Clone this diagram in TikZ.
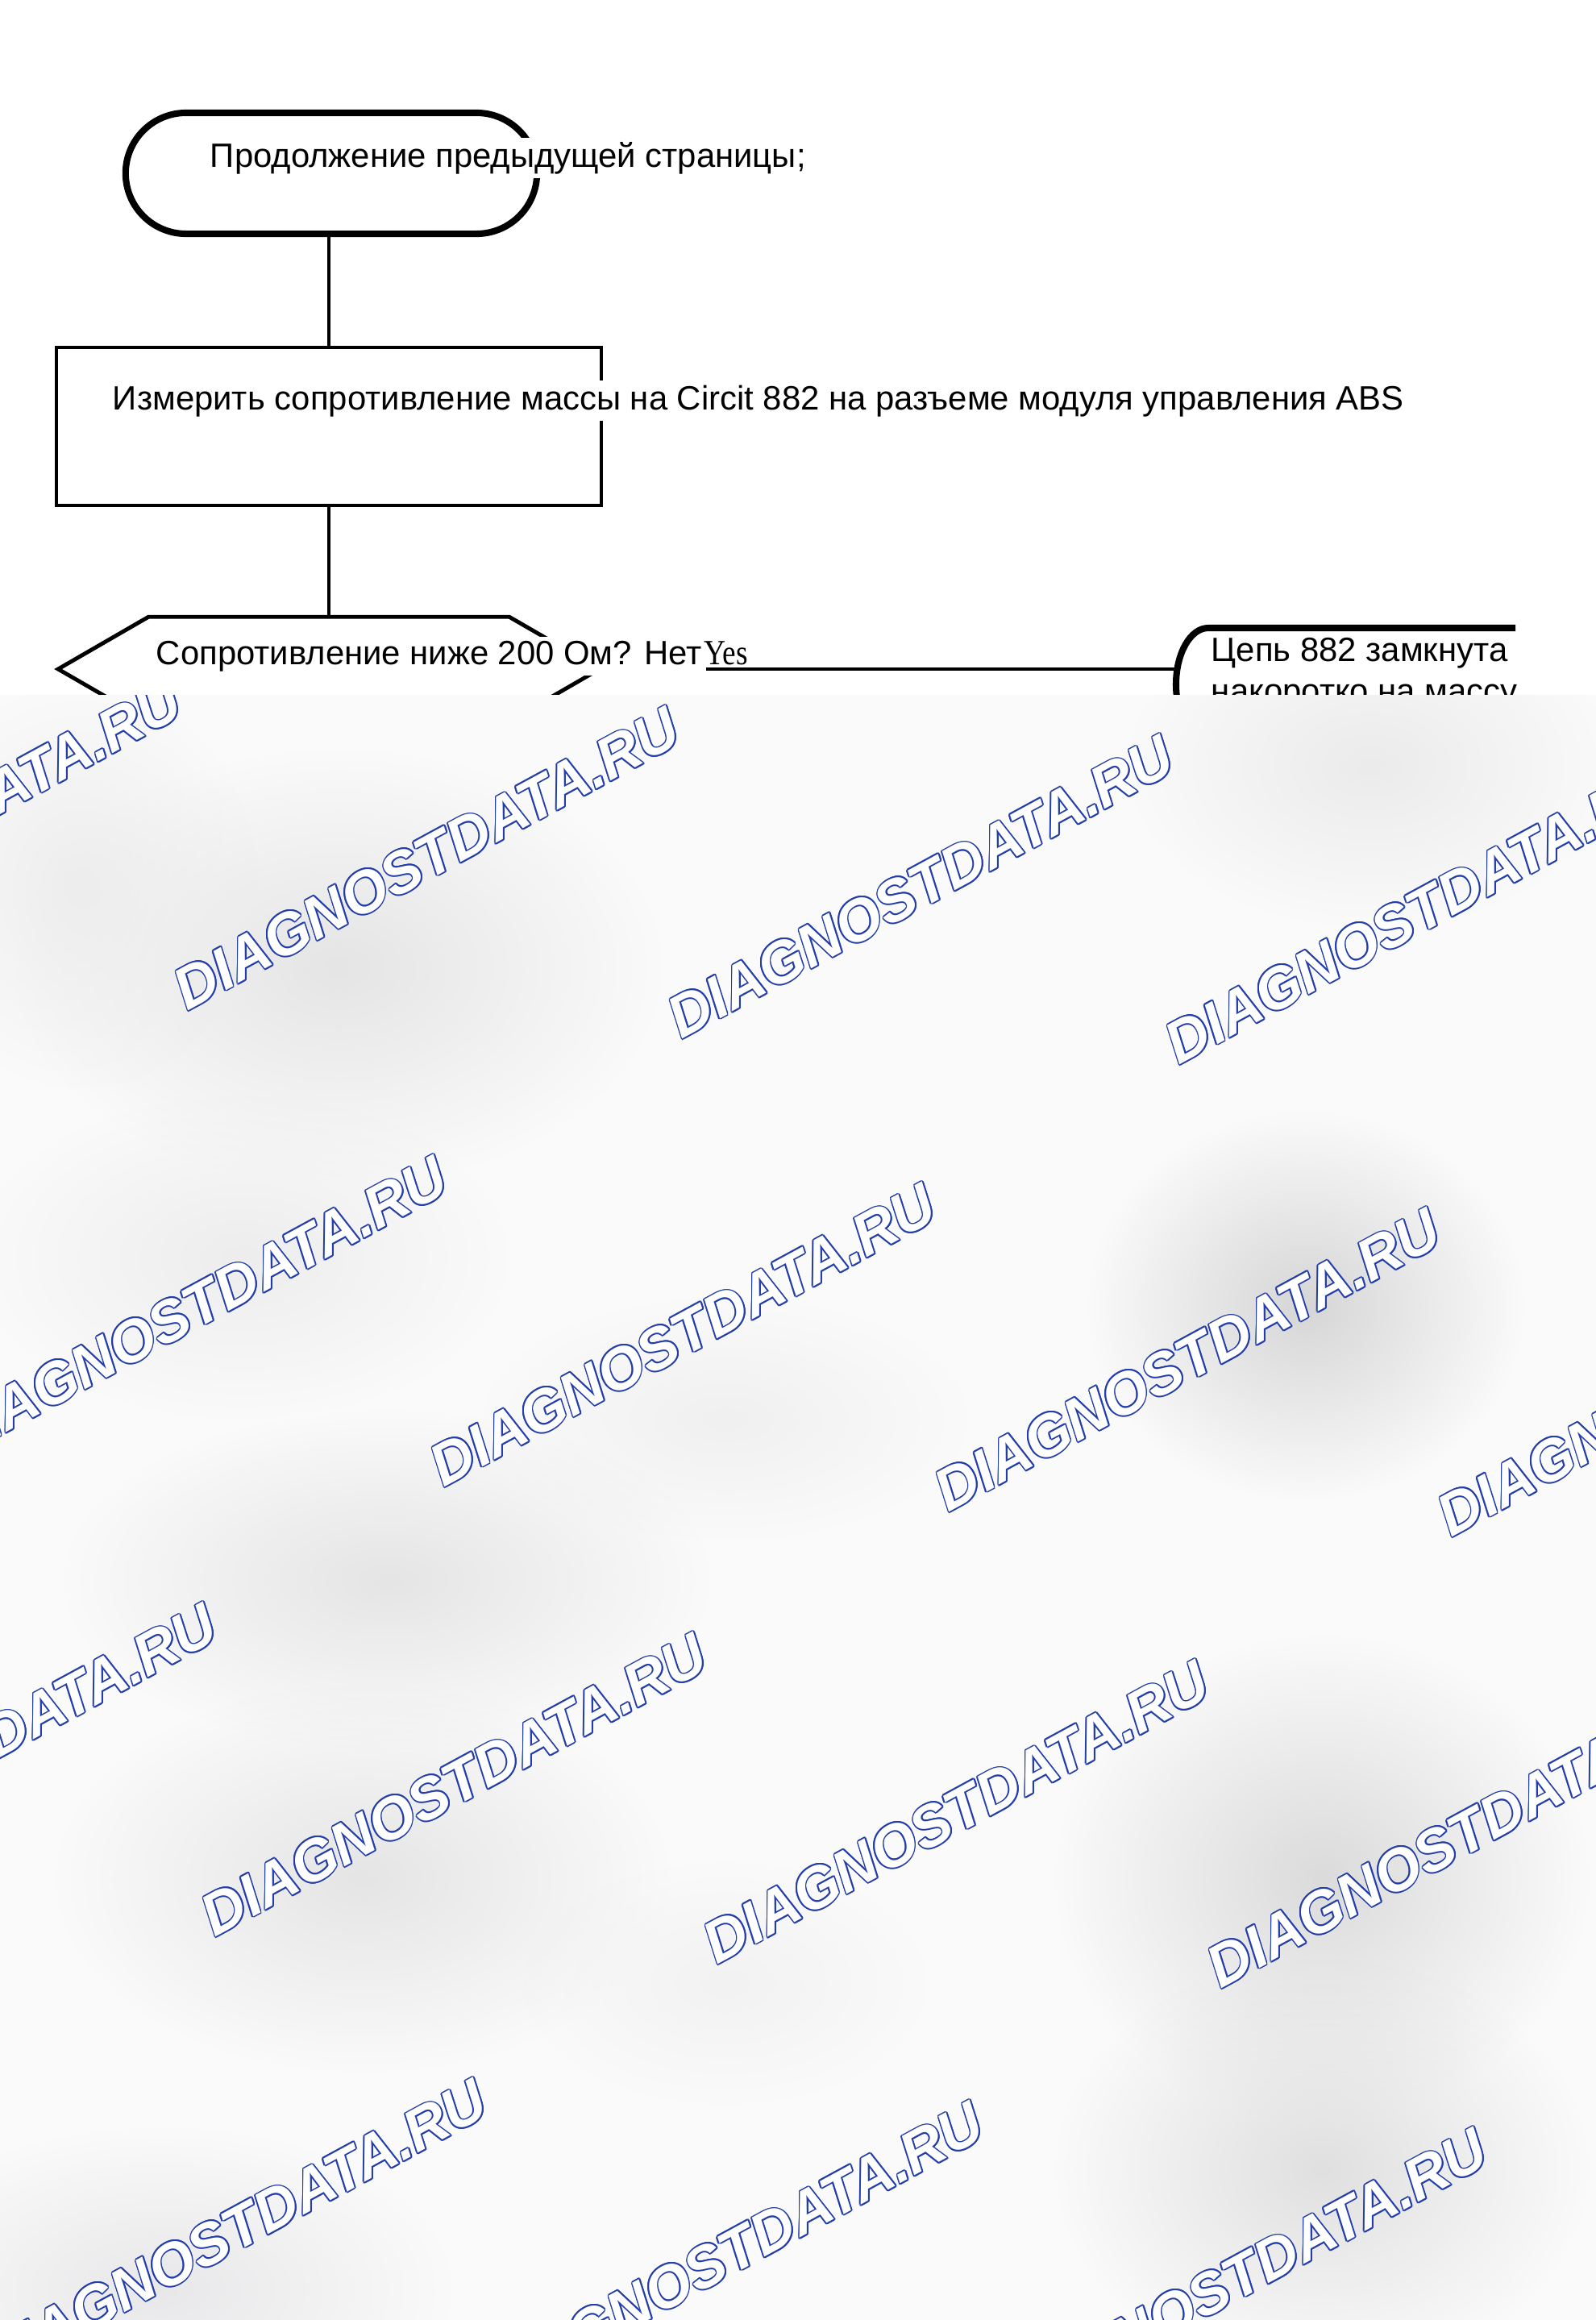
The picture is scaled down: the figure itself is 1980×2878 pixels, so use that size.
\documentclass[tikz,border=0pt]{standalone}
\usepackage{fontspec}
\setmainfont{Liberation Sans}
\newfontfamily\yesfont{Liberation Serif}
\usetikzlibrary{shapes.misc,fadings}
\definecolor{wmblue}{RGB}{35,62,170}
\definecolor{ovbase}{RGB}{250,250,250}
\tikzfading[name=blobfade, inner color=transparent!0, outer color=transparent!100]
\newcommand\wmark[2]{%
  \foreach \wa in {0,30,...,330}{\node[wm,text=wmblue,shift={(\wa:0.5pt)}] at (#1,#2) {DIAGNOSTDATA.RU};}%
  \node[wm,text=white] at (#1,#2) {DIAGNOSTDATA.RU};}
\newcommand\blob[5]{\fill[#5, path fading=blobfade] (#1,#2) ellipse [x radius=#3cm, y radius=#4cm];}
\begin{document}
\begin{tikzpicture}[x=0.01cm,y=-0.01cm,
  termbox/.style={rounded rectangle, draw, line width=2.3pt, inner sep=0pt},
  termline/.style={line width=2.3pt},
  procbox/.style={draw, line width=1.3pt, inner sep=0pt},
  hexline/.style={line width=1.4pt, line join=miter},
  txt/.style={font=\fontsize{11.9pt}{14.7pt}\selectfont, inner sep=1.5pt, fill=white, anchor=base west},
  conn/.style={line width=1.1pt},
  wm/.style={font=\fontsize{20.7pt}{24pt}\selectfont\bfseries\itshape, inner sep=0pt, rotate=28.5}]
\useasboundingbox (0,0) rectangle (1980,2878);
\fill[white] (0,0) rectangle (1980,2878);
% shapes
\node[termbox, minimum width=5.1cm, minimum height=1.5cm] (t1) at (411,215) {};
\node[procbox, minimum width=6.76cm, minimum height=1.96cm] (b1) at (408,529) {};
\node[minimum width=6.70cm, minimum height=1.28cm, inner sep=0pt] (hex) at (408,830) {};
\draw[hexline] ([xshift=1.12cm]hex.north west) -- ([xshift=-1.12cm]hex.north east) -- (hex.east)
  -- ([xshift=-1.12cm]hex.south east) -- ([xshift=1.12cm]hex.south west) -- (hex.west) -- cycle;
\node[minimum width=5.0cm, minimum height=1.40cm, inner sep=0pt] (t2) at (1709,849) {};
\begin{scope}
\clip (1400,700) rectangle (1880,1000);
\draw[termline] (1960,779) -- (1499,779) .. controls (1477,779) and (1459,810) .. (1459,849)
  .. controls (1459,888) and (1477,919) .. (1499,919) -- (1960,919);
\end{scope}
% connectors
\draw[conn] (b1.north |- t1.south) -- (b1.north);
\draw[conn] (b1.south) -- (hex.north);
\draw[line width=1pt] (hex.east) -- (hex.east -| t2.west);
% texts
\node[txt] (tx1) at (255,207) {Продолжение предыдущей страницы;};
\node[txt] (tx2) at (134,508) {Измерить сопротивление массы на Circit 882 на разъеме модуля управления ABS};
\node[txt] (tx3) at (188,824) {Сопротивление ниже 200 Ом? Нет};
\node[txt, fill=none, inner sep=0pt, font=\yesfont\fontsize{12.5pt}{15pt}\selectfont] (tx4) at ([xshift=-1.2pt]tx3.base east) {\scalebox{0.85}[1]{Yes}};
\node[txt, fill=none, align=left, anchor=north west] (tx5) at (1497,785) {Цепь 882 замкнута\\накоротко на массу};
% overlay
\fill[ovbase] (0,862) rectangle (1980,2878);
\begin{scope}
\clip (0,862) rectangle (1980,2878);
\blob{420}{1200}{4.0}{2.7}{black!10}
\blob{100}{1100}{2.2}{2.5}{black!7}
\blob{1700}{950}{3.0}{2.0}{black!8}
\blob{300}{1560}{3.3}{2.0}{black!7}
\blob{1620}{1620}{2.7}{2.4}{black!16}
\blob{900}{1760}{3.0}{1.5}{black!6}
\blob{480}{1960}{4.0}{2.1}{black!10}
\blob{450}{2330}{3.8}{2.4}{black!10}
\blob{1640}{2330}{3.3}{3.0}{black!14}
\blob{1640}{2690}{3.3}{2.6}{black!12}
\blob{900}{2460}{2.5}{1.5}{black!5}
\blob{200}{2840}{3.6}{2.0}{blue!9!black!9}
\wmark{-89}{1031}\wmark{529}{1065}\wmark{1142}{1100}\wmark{1759}{1132}
\wmark{241}{1622}\wmark{847}{1656}\wmark{1473}{1687}\wmark{2097}{1718}
\wmark{-45}{2177}\wmark{563}{2214}\wmark{1186}{2248}\wmark{1811}{2278}
\wmark{290}{2767}\wmark{906}{2795}\wmark{1531}{2828}
\end{scope}
\end{tikzpicture}
\end{document}
